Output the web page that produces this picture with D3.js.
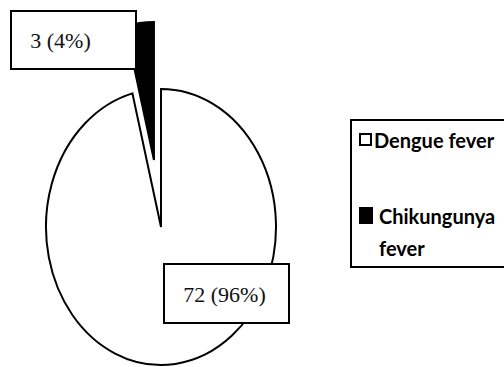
<!DOCTYPE html>
<html><head><meta charset="utf-8">
<script src="https://cdn.jsdelivr.net/npm/d3@7"></script>
<style>html,body{margin:0;padding:0;background:#fff;}svg{display:block;}</style>
</head><body>
<svg id="c" width="504" height="367"></svg>
<script>
const categories = ["Dengue fever", "Chikungunya fever"];
const values = [72, 3];
const labels = ["72 (96%)", "3 (4%)"];
const fills = ["#ffffff", "#000000"];

const svg = d3.select("#c");
const cx = 161, cy = 227, R = 138, sx = 115 / 138;
const pie = d3.pie().sort(null).value(d => d)(values);
const arc = d3.arc().innerRadius(0).outerRadius(R);
const explode = [0, 67.5];

const g = svg.append("g").attr("transform", `translate(${cx},${cy}) scale(${sx},1)`);
g.selectAll("path").data(pie).join("path")
  .attr("d", arc)
  .attr("transform", (d, i) => {
    const a = (d.startAngle + d.endAngle) / 2;
    return `translate(${Math.sin(a) * explode[i]},${-Math.cos(a) * explode[i]})`;
  })
  .attr("fill", (d, i) => fills[i])
  .attr("stroke", "#000")
  .attr("stroke-width", 2)
  .attr("stroke-linejoin", "miter")
  .attr("vector-effect", "non-scaling-stroke");

// data labels
const boxes = [
  {x: 164, y: 264, w: 125, h: 59},
  {x: 11, y: 11, w: 125, h: 58}
];
labels.forEach((t, i) => {
  const b = boxes[i];
  svg.append("rect").attr("x", b.x).attr("y", b.y).attr("width", b.w).attr("height", b.h)
    .attr("fill", "#fff").attr("stroke", "#000").attr("stroke-width", 2);
  svg.append("text").attr("x", b.x + b.w / 2 - (i === 0 ? 2 : 13)).attr("y", b.y + b.h / 2 + 8)
    .attr("text-anchor", "middle")
    .attr("font-family", "Liberation Serif, serif").attr("font-size", 22)
    .attr("fill", "#111").text(t);
});

// legend
svg.append("rect").attr("x", 351).attr("y", 120).attr("width", 170).attr("height", 147)
  .attr("fill", "#fff").attr("stroke", "#000").attr("stroke-width", 2);
const lg = svg.append("g").attr("font-family", "Lato, sans-serif").attr("font-weight", "bold")
  .attr("font-size", 20).attr("fill", "#000");
// Dengue
lg.append("rect").attr("x", 360).attr("y", 134).attr("width", 11).attr("height", 11)
  .attr("fill", fills[0]).attr("stroke", "#000").attr("stroke-width", 2);
lg.append("text").attr("x", 374).attr("y", 148).text(categories[0]);
// Chikungunya
lg.append("rect").attr("x", 359).attr("y", 207).attr("width", 14).attr("height", 17)
  .attr("fill", fills[1]);
const t2 = lg.append("text").attr("x", 379).attr("y", 224);
t2.append("tspan").attr("x", 379).text("Chikungunya");
t2.append("tspan").attr("x", 379).attr("dy", 32).text("fever");
</script>
</body></html>
